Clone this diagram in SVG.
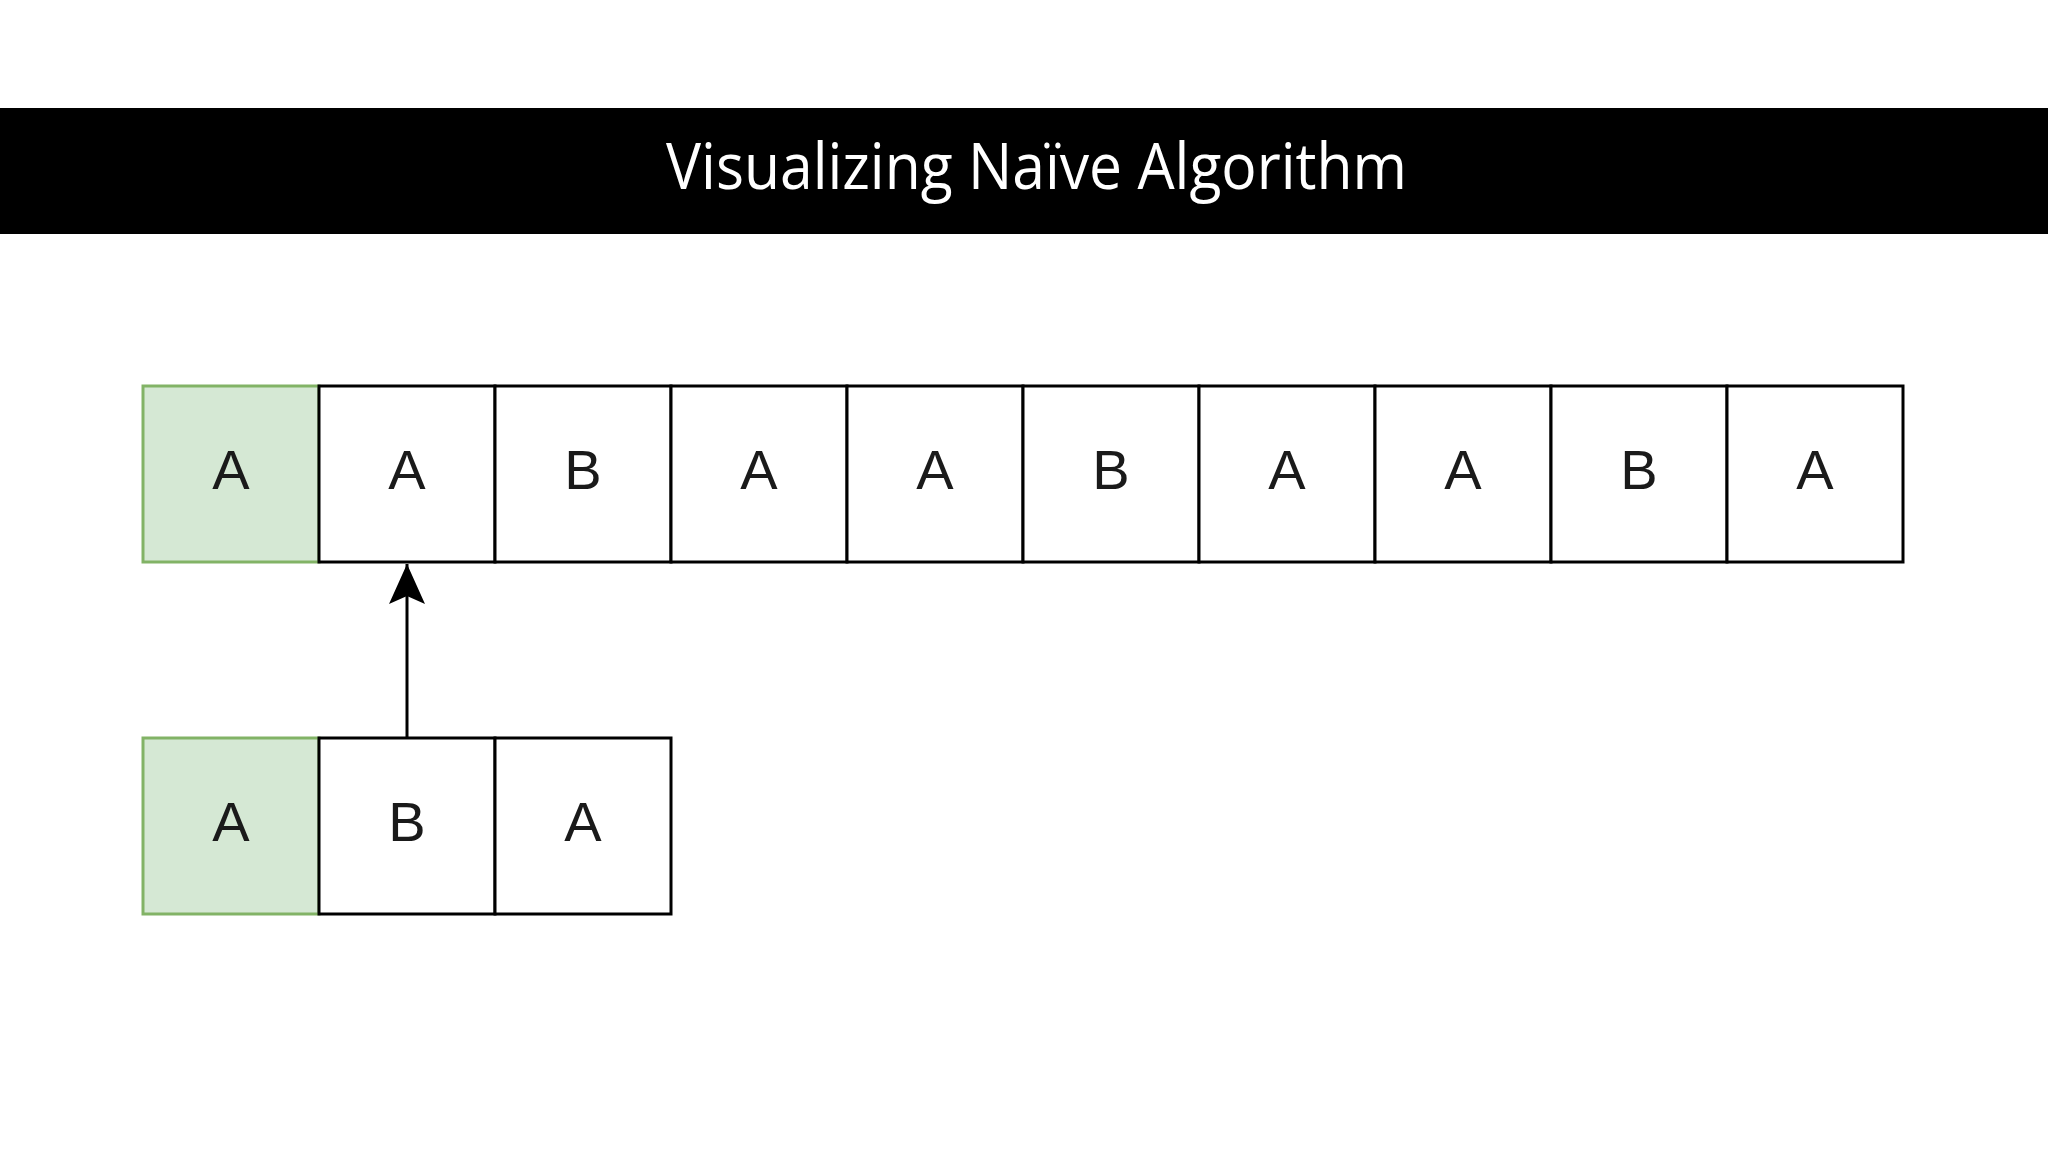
<svg xmlns="http://www.w3.org/2000/svg" width="2048" height="1152" viewBox="0 0 2048 1152">
<style>
.cell{fill:#ffffff;stroke:#000000;stroke-width:3}
.hit{fill:#d5e8d4;stroke:#82b366;stroke-width:3}
.lbl{font-family:"Liberation Sans",Arial,sans-serif;font-size:56px;fill:#1a1a1a;text-anchor:middle}
.title{font-family:"Open Sans","Noto Sans",sans-serif;font-size:64px;fill:#ffffff}
.conn{stroke:#000000;stroke-width:3;fill:none}
</style>
<defs>
<marker id="arr" markerUnits="userSpaceOnUse" markerWidth="42" markerHeight="40" refX="40" refY="20" viewBox="0 0 42 40" orient="auto">
<path d="M40 20 L0 2 L8 20 L0 38 Z" fill="#000000"/>
</marker>
</defs>
<rect x="0" y="0" width="2048" height="1152" fill="#ffffff"/>
<g id="titlebar">
<rect x="0" y="108" width="2048" height="126" fill="#000000"/>
<text class="title" x="666" y="189" textLength="741" lengthAdjust="spacingAndGlyphs">Visualizing Naïve Algorithm</text>
</g>
<g id="text-row">
<g id="t0"><rect class="hit" x="143" y="386" width="176" height="176"/><text class="lbl" x="231" y="489">A</text></g>
<g id="t1"><rect class="cell" x="319" y="386" width="176" height="176"/><text class="lbl" x="407" y="489">A</text></g>
<g id="t2"><rect class="cell" x="495" y="386" width="176" height="176"/><text class="lbl" x="583" y="489">B</text></g>
<g id="t3"><rect class="cell" x="671" y="386" width="176" height="176"/><text class="lbl" x="759" y="489">A</text></g>
<g id="t4"><rect class="cell" x="847" y="386" width="176" height="176"/><text class="lbl" x="935" y="489">A</text></g>
<g id="t5"><rect class="cell" x="1023" y="386" width="176" height="176"/><text class="lbl" x="1111" y="489">B</text></g>
<g id="t6"><rect class="cell" x="1199" y="386" width="176" height="176"/><text class="lbl" x="1287" y="489">A</text></g>
<g id="t7"><rect class="cell" x="1375" y="386" width="176" height="176"/><text class="lbl" x="1463" y="489">A</text></g>
<g id="t8"><rect class="cell" x="1551" y="386" width="176" height="176"/><text class="lbl" x="1639" y="489">B</text></g>
<g id="t9"><rect class="cell" x="1727" y="386" width="176" height="176"/><text class="lbl" x="1815" y="489">A</text></g>
</g>
<g id="pattern-row">
<g id="p0"><rect class="hit" x="143" y="738" width="176" height="176"/><text class="lbl" x="231" y="841">A</text></g>
<g id="p1"><rect class="cell" x="319" y="738" width="176" height="176"/><text class="lbl" x="407" y="841">B</text></g>
<g id="p2"><rect class="cell" x="495" y="738" width="176" height="176"/><text class="lbl" x="583" y="841">A</text></g>
</g>
<g id="connectors">
<line class="conn" x1="407" y1="738" x2="407" y2="564" marker-end="url(#arr)"/>
</g>
</svg>
